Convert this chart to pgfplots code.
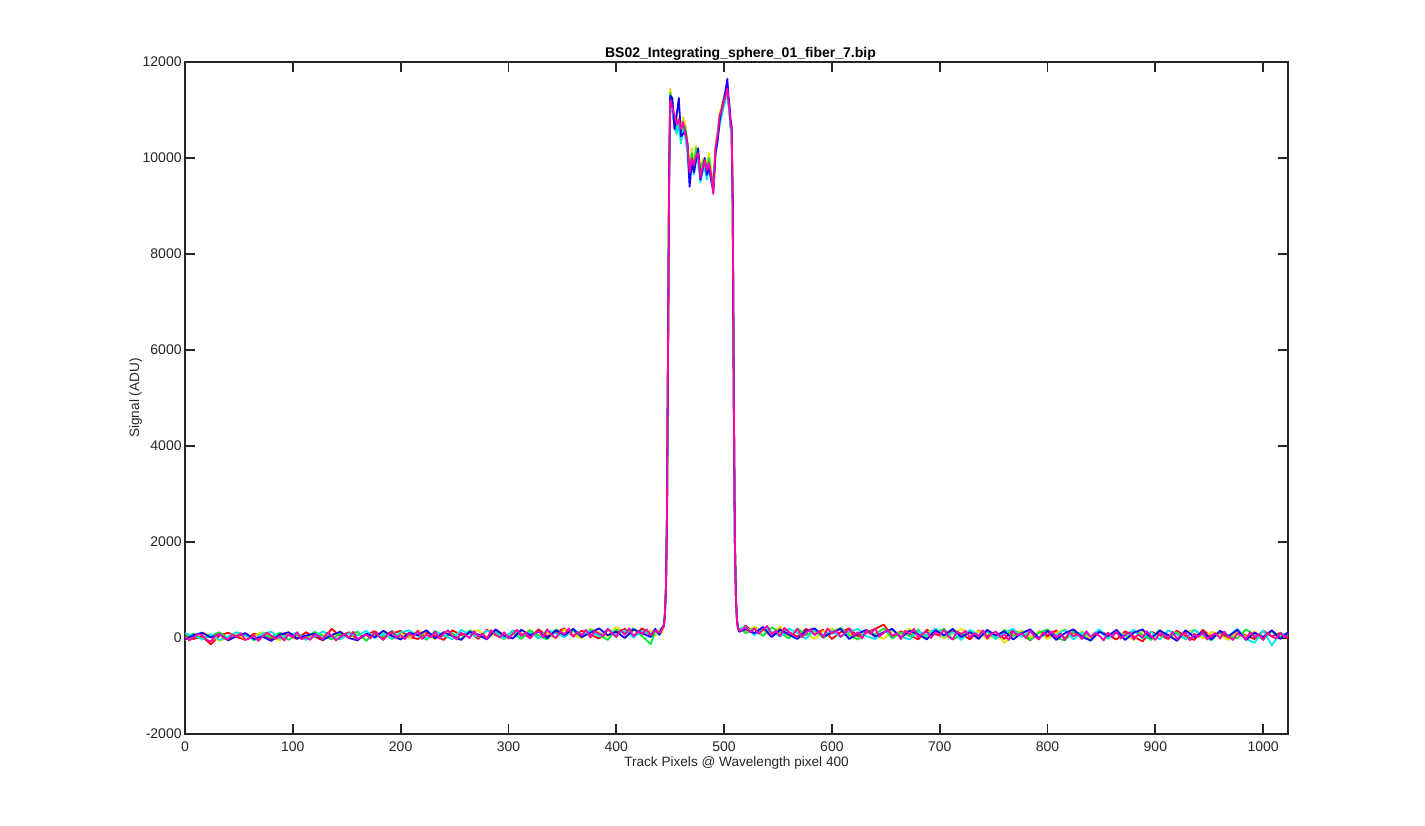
\documentclass[border=0pt]{standalone}
\usepackage{pgfplots}
\usepackage{pgfplotstable}
\pgfplotsset{compat=1.18}
\usepackage{fontspec}
\setmainfont{Liberation Sans}
\definecolor{cR}{RGB}{255,0,0}
\definecolor{cO}{RGB}{225,225,0}
\definecolor{cG}{RGB}{0,235,60}
\definecolor{cC}{RGB}{0,230,235}
\definecolor{cB}{RGB}{20,0,255}
\definecolor{cM}{RGB}{255,0,170}
\definecolor{axc}{RGB}{38,38,38}
\pgfplotstableread{
x r o g c b
0 60 -40 20 100 -30
8 -20 30 90 40 60
16 30 110 -30 -20 110
24 -130 60 50 80 10
32 50 -60 120 -40 80
40 110 10 -10 30 -50
48 20 90 40 120 40
56 -40 -30 100 50 100
64 90 50 -50 -30 -20
72 40 120 60 90 30
80 -30 20 20 130 -60
88 100 -50 110 -10 70
96 60 80 -40 60 120
104 -20 30 70 110 -10
112 120 -20 -10 -40 50
120 30 100 130 30 90
128 -50 60 40 140 -40
136 190 -10 -30 20 60
144 40 130 90 -30 130
152 120 20 10 100 0
160 -30 90 140 50 -50
168 70 -40 -60 150 90
176 140 50 100 0 20
184 0 140 30 90 150
192 90 -30 150 -20 40
200 150 100 -20 120 -30
208 20 0 60 160 110
216 -20 160 120 40 60
224 110 60 -40 -10 160
232 50 -20 150 130 -10
240 -40 130 30 60 120
248 160 40 100 -30 40
256 60 -30 -30 170 -40
264 120 110 160 80 130
272 -20 160 60 20 70
280 170 10 -10 150 -30
288 60 90 140 100 180
296 -10 -30 30 -20 50
304 150 140 110 160 -10
312 90 60 -20 40 170
320 10 170 160 120 60
328 180 30 50 -10 130
336 40 110 -30 170 0
344 120 -10 180 90 160
352 200 180 80 20 60
360 30 70 150 180 190
368 150 -10 20 70 20
376 70 190 170 140 110
384 -10 120 60 30 200
392 170 30 -40 190 60
400 110 230 170 60 130
408 190 90 110 160 0
416 30 170 200 10 180
424 200 60 40 150 100
432 60 160 -130 90 20
436 170 40 150 170 190
440 90 180 80 60 70
442 190 90 210 180 200
444 230 260 240 270 250
445 420 470 440 480 450
446 950 1050 980 1020 1000
447 2400 2600 2500 2450 2550
448 5900 6200 6000 6100 6050
449 9400 9800 9600 9500 9700
450 11100 11450 11350 11200 11300
452 11000 11150 11050 10950 11250
454 10700 10800 10750 10650 10600
456 10850 10900 10600 10500 10900
458 10650 10700 10800 10700 11250
460 10500 10600 10400 10300 10450
462 10800 10850 10700 10600 10500
464 10600 10700 10650 10450 10550
466 10200 10350 10250 10100 10300
468 9700 9800 9650 9500 9400
470 10050 10200 10100 9950 9900
472 9750 9900 9800 9650 9700
474 10100 10250 10200 10000 9950
476 10000 10150 10050 9900 10200
478 9650 9800 9700 9500 9550
480 9850 9950 9900 9700 9750
482 9900 10000 9950 9800 10000
484 9700 9850 9750 9550 9650
486 9950 10100 10000 9850 9800
488 9600 9750 9650 9500 9550
490 9400 9500 9450 9350 9300
492 10150 10250 10200 10050 10100
494 10450 10550 10500 10400 10350
496 10850 10950 10900 10700 10800
498 10950 11100 11000 10900 11050
500 11150 11300 11200 11100 11250
502 11300 11400 11350 11250 11500
503 11400 11500 11450 11350 11650
504 11150 11250 11200 11100 11300
505 10950 11050 11000 10900 11100
506 10650 10750 10700 10600 10800
507 10550 10650 10600 10500 10650
508 8900 9100 9000 8950 9050
509 4900 5100 5000 4950 5050
510 1950 2050 2000 1980 2020
511 780 820 800 790 810
512 330 370 350 340 360
513 190 220 200 210 200
514 140 170 150 160 130
516 170 210 190 200 150
520 260 120 100 240 180
528 90 230 200 60 100
536 180 150 40 210 230
544 30 60 220 130 20
552 200 240 120 30 170
560 120 20 -10 190 70
568 30 160 200 110 -20
576 190 90 60 -20 150
584 80 -20 160 180 200
592 170 140 0 60 30
600 -20 200 120 150 110
608 120 30 210 20 190
616 200 110 50 130 -20
624 40 -30 -30 190 90
632 110 170 150 40 170
640 190 60 80 -20 30
648 280 -20 200 110 120
656 30 150 -10 170 190
664 140 80 120 30 10
672 60 190 40 -30 150
680 -30 20 170 140 80
688 170 120 0 60 -30
696 80 180 110 200 160
704 20 -10 190 30 60
712 150 100 -30 120 190
720 90 190 60 -40 20
728 -30 40 150 170 120
736 160 150 10 60 -20
744 40 -30 130 140 170
752 130 120 -20 -10 50
760 -20 -100 170 110 140
768 170 60 40 190 -30
776 80 160 120 20 100
784 -50 20 -40 150 180
792 140 130 110 -20 0
800 30 -20 180 130 150
808 160 110 0 60 -40
816 -10 180 -50 170 100
824 120 30 140 -30 180
832 50 140 70 120 20
840 -40 -30 -60 40 -50
848 150 170 160 180 130
856 60 10 30 -20 40
864 -30 130 120 130 170
872 140 60 -30 40 -40
880 30 -40 150 170 110
888 -70 150 70 -10 180
896 130 20 -40 130 0
904 60 170 170 -30 150
912 -20 40 10 160 60
920 150 -50 120 70 -60
928 40 120 -30 -20 160
936 -40 170 170 170 20
944 170 -10 60 60 130
952 20 130 -50 -40 -30
960 120 60 140 150 150
968 -30 -40 30 40 40
976 140 160 -10 190 170
984 50 20 180 -20 -40
992 -20 140 60 -100 110
1000 150 -30 -30 160 20
1008 30 150 140 -150 160
1016 110 10 30 100 -20
1023 -10 120 100 40 120
}\data
\pgfplotstableread{
x m
0 30
4 -50
8 10
12 80
16 60
20 -40
24 -70
28 40
32 90
36 0
40 -30
44 70
48 20
52 100
56 -40
60 -10
64 60
68 -60
72 30
76 110
80 50
84 -20
88 40
92 -50
96 80
100 10
104 120
108 -30
112 20
116 -40
120 70
124 40
128 -20
132 110
136 60
140 -50
144 20
148 90
152 0
156 130
160 -30
164 40
168 70
172 -10
176 120
180 30
184 -40
188 80
192 140
196 10
200 60
204 -20
208 100
212 30
216 150
220 -20
224 70
228 20
232 130
236 -10
240 90
244 160
248 40
252 -30
256 110
260 60
264 0
268 140
272 30
276 90
280 -20
284 160
288 70
292 10
296 120
300 -10
304 80
308 170
312 40
316 110
320 -10
324 90
328 150
332 20
336 180
340 60
344 0
348 130
352 80
356 200
360 30
364 120
368 60
372 170
376 10
380 140
384 90
388 40
392 190
396 100
400 20
404 160
408 70
412 200
416 40
420 130
424 90
428 180
432 60
436 150
440 110
442 150
444 250
445 450
446 1000
447 2500
448 6000
449 9500
450 11200
452 11050
454 10900
456 10700
458 10800
460 10600
462 10750
464 10500
466 10300
468 9700
470 10000
472 9850
474 10050
476 10100
478 9600
480 9800
482 9950
484 9750
486 9900
488 9650
490 9250
492 10200
494 10500
496 10900
498 11000
500 11200
502 11350
503 11450
504 11200
505 11000
506 10700
507 10600
508 9000
509 5000
510 2000
511 800
512 350
513 200
514 150
516 160
520 230
524 120
528 200
532 90
536 170
540 250
544 80
548 150
552 40
556 210
560 130
564 70
568 190
572 20
576 110
580 180
584 60
588 140
592 10
596 200
600 90
604 150
608 30
612 100
616 190
620 50
624 120
628 -10
632 160
636 80
640 200
644 30
648 110
652 170
656 40
660 100
664 -20
668 150
672 80
676 190
680 20
684 90
688 140
692 0
696 120
700 60
704 170
708 30
712 -30
716 130
720 80
724 150
728 10
732 100
736 40
740 160
744 -10
748 90
752 130
756 20
760 70
764 -40
768 140
772 60
776 100
780 0
784 150
788 30
792 -30
796 110
800 60
804 140
808 10
812 90
816 -40
820 120
824 40
828 80
832 -20
836 140
840 20
844 100
848 50
852 -50
856 110
860 30
864 130
868 -10
872 70
876 120
880 -30
884 80
888 10
892 140
896 40
900 -40
904 100
908 60
912 0
916 130
920 -20
924 70
928 110
932 -50
936 90
940 20
944 120
948 -30
952 60
956 100
960 -10
964 130
968 30
972 -40
976 90
980 50
984 -20
988 120
992 10
996 80
1000 -40
1004 110
1008 30
1012 -10
1016 100
1020 20
1023 60
}\magd
\begin{document}
\begin{tikzpicture}
\path[use as bounding box] (-92.5pt,-45.5pt) rectangle (620pt,367pt);
\begin{axis}[
  at={(0pt,0pt)}, anchor=south west,
  scale only axis, width=551.5pt, height=336pt,
  xmin=0, xmax=1023, ymin=-2000, ymax=12000,
  xtick={0,100,...,1000}, ytick={-2000,0,...,12000},
  scaled y ticks=false, scaled x ticks=false,
  xtick pos=both, ytick pos=both,
  tick align=inside, major tick length=5pt,
  axis line style={axc, line width=0.9pt},
  every tick/.style={axc, line width=0.9pt},
  /pgf/number format/assume math mode=true,
  /pgf/number format/1000 sep={},
  tick label style={font=\fontsize{7}{8}\selectfont, text=axc},
  xticklabel style={anchor=base, inner sep=0pt, yshift=-8.85pt},
  yticklabel style={anchor=east, inner sep=0pt, xshift=-1.5pt},
  title={\bfseries BS02\_Integrating\_sphere\_01\_fiber\_7.bip},
  title style={at={(axis description cs:0.5,1.0074)}, anchor=base, inner sep=0pt, yshift=-6pt, xshift=2pt, font=\fontsize{7}{8}\selectfont},
  xlabel={Track Pixels @ Wavelength pixel 400},
  xlabel style={at={(axis description cs:0.5,-0.0487)}, anchor=base, inner sep=0pt, font=\fontsize{6.8}{8}\selectfont, text=axc},
  ylabel={Signal (ADU)},
  ylabel style={at={(axis description cs:-0.0415,0.5)}, anchor=base, rotate=0, inner sep=0pt, font=\fontsize{6.8}{8}\selectfont, text=axc},
  every axis plot/.append style={line width=0.9pt, line join=round},
]
\addplot[cR] table[x=x,y=r] {\data};
\addplot[cO] table[x=x,y=o] {\data};
\addplot[cG] table[x=x,y=g] {\data};
\addplot[cC] table[x=x,y=c] {\data};
\addplot[cB] table[x=x,y=b] {\data};
\addplot[cM] table[x=x,y=m] {\magd};
\end{axis}
\end{tikzpicture}
\end{document}
